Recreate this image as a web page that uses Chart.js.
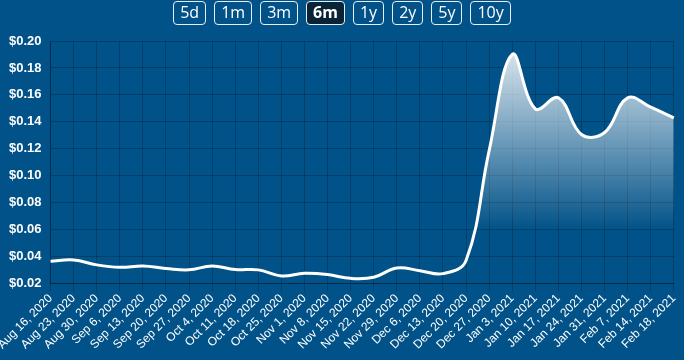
<!DOCTYPE html>
<html>
<head>
<meta charset="utf-8">
<script src="https://cdn.jsdelivr.net/npm/chart.js@4"></script>
<style>
  html, body { margin: 0; padding: 0; background: #005288; width: 684px; height: 360px; overflow: hidden; }
  #wrap { position: relative; width: 684px; height: 360px; }
  #btns { position: absolute; top: 1px; left: 0; width: 684px; display: flex; justify-content: center; gap: 8px; z-index: 2; padding-left: 0px; box-sizing: border-box; }
  .b { box-sizing: border-box; height: 24px; line-height: 21px; border: 1.5px solid #e8eef4; border-radius: 4px; color: #fff; font-family: "Open Sans", sans-serif; font-size: 16px; text-align: center; padding: 0 6px; }
  .b.sel { background: #0a2336; font-weight: bold; }
  canvas { position: absolute; top: 0; left: 0; }
</style>
</head>
<body>
<div id="wrap">
  <div id="btns"></div>
  <canvas id="c" width="684" height="360"></canvas>
</div>
<script>
const ranges = ["5d", "1m", "3m", "6m", "1y", "2y", "5y", "10y"];
const selectedRange = "6m";
const labels = ["Aug 16, 2020","Aug 23, 2020","Aug 30, 2020","Sep 6, 2020","Sep 13, 2020","Sep 20, 2020","Sep 27, 2020","Oct 4, 2020","Oct 11, 2020","Oct 18, 2020","Oct 25, 2020","Nov 1, 2020","Nov 8, 2020","Nov 15, 2020","Nov 22, 2020","Nov 29, 2020","Dec 6, 2020","Dec 13, 2020","Dec 20, 2020","Dec 27, 2020","Jan 3, 2021","Jan 10, 2021","Jan 17, 2021","Jan 24, 2021","Jan 31, 2021","Feb 7, 2021","Feb 14, 2021","Feb 18, 2021"];
const prices = [0.0364,0.0374,0.0337,0.0319,0.0329,0.0311,0.0300,0.0329,0.0302,0.0300,0.0255,0.0274,0.0265,0.0237,0.0245,0.0314,0.0294,0.0272,0.0369,0.1186,0.1900,0.1496,0.1578,0.1305,0.1320,0.1578,0.1508,0.1429];
const yTicks = [0.02,0.04,0.06,0.08,0.10,0.12,0.14,0.16,0.18,0.20];

const btns = document.getElementById('btns');
ranges.forEach(r => {
  const d = document.createElement('div');
  d.className = 'b' + (r === selectedRange ? ' sel' : '');
  d.textContent = r;
  btns.appendChild(d);
});

const ctx = document.getElementById('c').getContext('2d');
function grad(context) {
  const ch = context.chart;
  const area = ch.chartArea;
  if (!area) return 'rgba(255,255,255,0.5)';
  const g = ch.ctx.createLinearGradient(0, area.top, 0, area.top + 190);
  g.addColorStop(0, 'rgba(255,255,255,0.9)');
  g.addColorStop(1, 'rgba(255,255,255,0)');
  return g;
}
new Chart(ctx, {
  type: 'line',
  data: {
    labels: labels,
    datasets: [{
      data: prices,
      borderColor: '#ffffff',
      borderWidth: 3,
      pointRadius: 0,
      tension: 0.4,
      fill: 'start',
      backgroundColor: grad
    }]
  },
  options: {
    responsive: false,
    animation: false,
    layout: { padding: { top: 41, right: 2, left: 0, bottom: 8 } },
    plugins: { legend: { display: false }, tooltip: { enabled: false } },
    scales: {
      x: {
        grid: { color: 'rgba(0,0,0,0.22)', tickLength: 8 },
        border: { color: 'rgba(0,0,0,0.3)' },
        ticks: {
          color: '#ffffff',
          minRotation: 45, maxRotation: 45,
          autoSkip: false,
          padding: 0,
          font: { family: 'Liberation Sans, Arial, sans-serif', size: 12 }
        }
      },
      y: {
        min: yTicks[0], max: yTicks[yTicks.length - 1],
        afterBuildTicks: axis => { axis.ticks = yTicks.map(v => ({ value: v })); },
        grid: { color: 'rgba(0,0,0,0.22)', drawTicks: false },
        border: { color: 'rgba(0,0,0,0.3)' },
        ticks: {
          color: '#ffffff',
          padding: 9,
          font: { family: 'Liberation Sans, Arial, sans-serif', size: 13, weight: 'bold' },
          callback: v => '$' + Number(v).toFixed(2)
        }
      }
    }
  }
});
</script>
</body>
</html>
